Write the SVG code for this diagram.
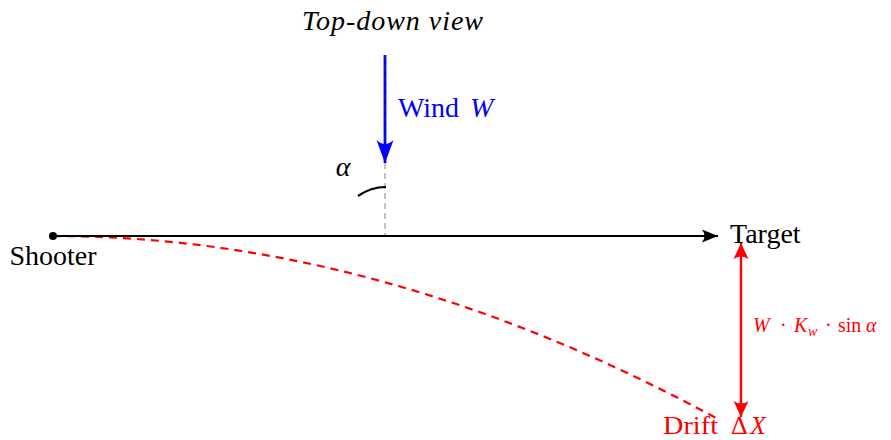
<svg xmlns="http://www.w3.org/2000/svg" width="891" height="440" viewBox="0 0 891 440">
<style>
text{font-family:"Liberation Serif","DejaVu Serif",serif;font-size:28px}
.it{font-style:italic}
.red{fill:#ff0000}
.blue{fill:#0000ff}
</style>
<defs>
<marker id="ahK" viewBox="-18 -8 20 16" markerWidth="20" markerHeight="16" refX="0" refY="0" orient="auto" markerUnits="userSpaceOnUse">
<path d="M0,0 L-16,-6.5 Q-11,0 -16,6.5 Z" fill="#000"/>
</marker>
<marker id="ahR" viewBox="-18 -9 20 18" markerWidth="20" markerHeight="18" refX="0" refY="0" orient="auto-start-reverse" markerUnits="userSpaceOnUse">
<path d="M0,0 L-16,-7.5 Q-11,0 -16,7.5 Z" fill="#ff0000"/>
</marker>
<marker id="ahB" viewBox="-25 -10 27 20" markerWidth="27" markerHeight="20" refX="0" refY="0" orient="auto" markerUnits="userSpaceOnUse">
<path d="M0,0 L-23,-8.5 Q-15,0 -23,8.5 Z" fill="#0000ff"/>
</marker>
</defs>
<g id="connectors">
<path d="M53,236 Q380,236 716,418" fill="none" stroke="#ff0000" stroke-width="2.2" stroke-dasharray="8,6"/>
<line x1="385" y1="163" x2="385" y2="236" stroke="#999" stroke-width="1.2" stroke-dasharray="6,4"/>
<line x1="53" y1="236" x2="718" y2="236" stroke="#000" stroke-width="2" marker-end="url(#ahK)"/>
<line x1="385" y1="55" x2="385" y2="163" stroke="#0000ff" stroke-width="2.8" marker-end="url(#ahB)"/>
<line x1="385" y1="55" x2="385" y2="145" stroke="#2020a0" stroke-width="1" stroke-dasharray="6,4"/>
<line x1="741" y1="243" x2="741" y2="417" stroke="#ff0000" stroke-width="2.4" marker-start="url(#ahR)" marker-end="url(#ahR)"/>
<path d="M386,187 A49,49 0 0 0 358,196" fill="none" stroke="#000" stroke-width="2.2"/>
</g>
<g id="title"><text class="it" x="302" y="30" textLength="181" lengthAdjust="spacing">Top-down view</text></g>
<g id="wind"><text class="blue" y="117"><tspan x="398">Wind</tspan><tspan class="it" x="470">W</tspan></text></g>
<g id="alpha"><text class="it" x="343" y="176" text-anchor="middle">α</text></g>
<g id="shooter">
<circle cx="53" cy="236" r="4" fill="#000"/>
<text x="53" y="265" text-anchor="middle">Shooter</text>
</g>
<g id="target"><text x="730" y="243">Target</text></g>
<g id="formula"><text class="red" y="332" style="font-size:20px"><tspan class="it" x="753">W</tspan><tspan x="780">·</tspan><tspan class="it" x="794">K</tspan><tspan class="it" x="808" dy="4" style="font-size:14px">w</tspan><tspan x="825" dy="-4">·</tspan><tspan x="838">sin</tspan><tspan class="it" x="866">α</tspan></text></g>
<g id="drift"><text class="red" y="434" style="font-size:26px"><tspan x="663" textLength="55" lengthAdjust="spacingAndGlyphs">Drift</tspan><tspan x="731">Δ</tspan><tspan class="it" x="750">X</tspan></text></g>
</svg>
